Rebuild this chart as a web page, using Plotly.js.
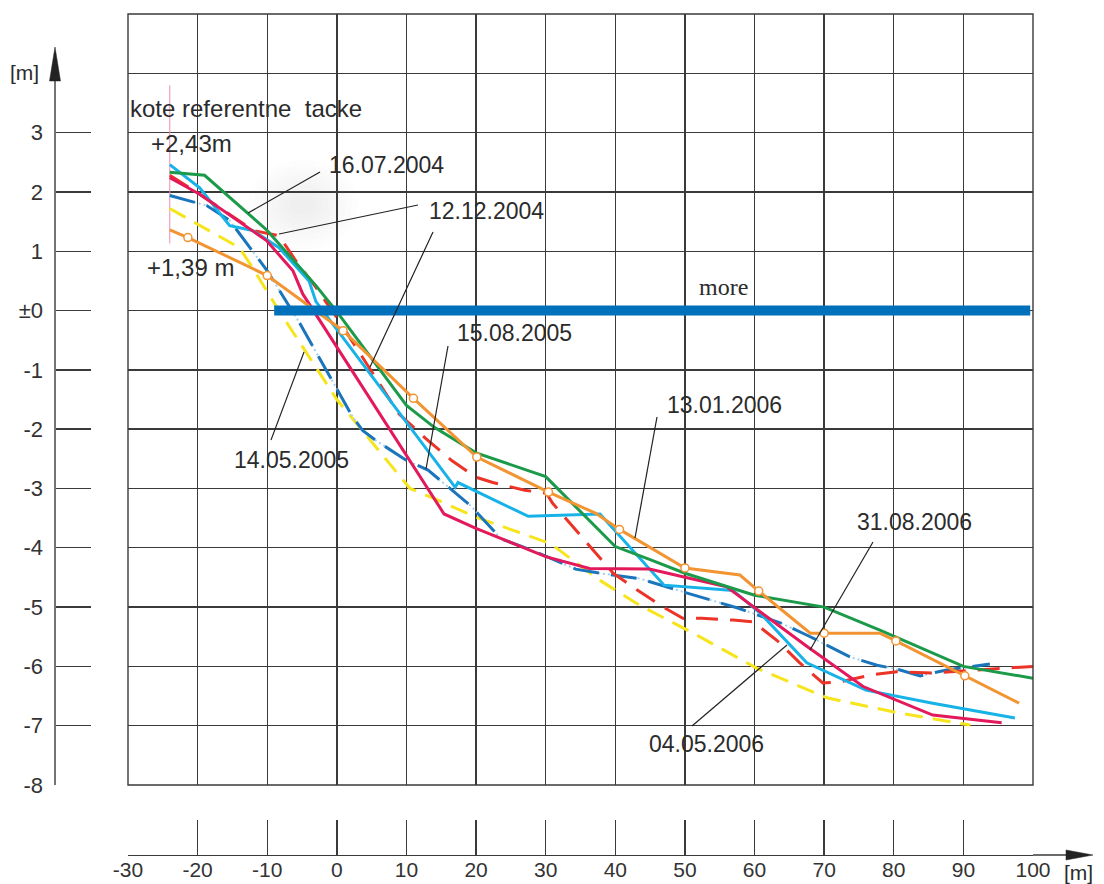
<!DOCTYPE html>
<html>
<head>
<meta charset="utf-8">
<script src="https://cdn.plot.ly/plotly-3.0.1.min.js"></script>
<style>html,body{margin:0;padding:0;background:#fff;}#chart{width:1104px;height:884px;}</style>
</head>
<body>
<div id="chart"></div>
<script>
// ---- data ----
const xTickVals = [-30, -20, -10, 0, 10, 20, 30, 40, 50, 60, 70, 80, 90, 100];
const xTickText = ['-30', '-20', '-10', '0', '10', '20', '30', '40', '50', '60', '70', '80', '90', '100'];
const yTickVals = [-8, -7, -6, -5, -4, -3, -2, -1, 0, 1, 2, 3];
const yTickText = ['-8', '-7', '-6', '-5', '-4', '-3', '-2', '-1', '\u00B10', '1', '2', '3'];

const green_16072004_X = [-24, -19, -10, -3, 0, 10, 14, 20, 30, 40, 45, 50, 60, 70, 78, 90, 100];
const green_16072004_Y = [2.33, 2.28, 1.35, 0.42, -0.02, -1.6, -1.97, -2.4, -2.8, -3.98, -4.2, -4.43, -4.8, -5.0, -5.39, -6.0, -6.2];

const red_12122004_X = [-24, -19.7, -12, -8.3, -5.9, -3, 0.3, 5.4, 8.9, 12.7, 16.5, 20, 22.4, 27, 30.1, 31, 35.9, 39.7, 43.1, 46.9, 49.7, 52.4, 56.9, 59.8, 63.2, 66.5, 69.8, 72.3, 77, 80.4, 85.6, 92.4, 100];
const red_12122004_Y = [2.28, 1.96, 1.35, 1.26, 0.84, 0.39, -0.17, -1.09, -1.74, -2.15, -2.53, -2.81, -2.9, -3.03, -3.08, -3.25, -3.92, -4.43, -4.71, -5.0, -5.19, -5.19, -5.22, -5.25, -5.56, -5.94, -6.28, -6.26, -6.14, -6.09, -6.11, -6.06, -6.0];

const yellow_14052005_X = [-24, -14, -12.1, -8.6, 0, 6, 10.5, 13.6, 19.9, 30.7, 34.6, 37.8, 43.5, 51.2, 60.3, 70.4, 80.9, 91];
const yellow_14052005_Y = [1.72, 1.06, 0.72, 0.05, -1.5, -2.36, -3.0, -3.15, -3.48, -3.93, -4.27, -4.55, -4.97, -5.44, -6.03, -6.53, -6.79, -6.99];

const blue_15082005_X = [-24, -18.7, -15.4, -10, -5.3, 2.3, 3.7, 5.6, 9.9, 13.1, 19.3, 23.6, 28, 34.3, 37.8, 43.5, 50.2, 57.7, 64, 68, 73.7, 77.6, 80.9, 83.8, 87.6, 93.8];
const blue_15082005_Y = [1.94, 1.77, 1.52, 0.67, -0.22, -1.8, -2.02, -2.19, -2.52, -2.69, -3.3, -3.85, -4.04, -4.36, -4.43, -4.52, -4.76, -5.02, -5.28, -5.5, -5.84, -5.98, -6.06, -6.16, -6.06, -5.96];

const orange_13012006_X = [-24, -21.4, -10, 0.9, 11, 20.1, 30.4, 37.2, 40.6, 50, 57.9, 60.6, 68, 70, 78, 80.3, 90.2, 98];
const orange_13012006_Y = [1.36, 1.23, 0.59, -0.34, -1.48, -2.47, -3.06, -3.42, -3.69, -4.34, -4.46, -4.73, -5.44, -5.44, -5.44, -5.57, -6.16, -6.62];
const orangeMarkX = [-21.4, -10, 0.9, 11, 20.1, 30.4, 40.6, 50, 60.6, 70, 80.3, 90.2];
const orangeMarkY = [1.23, 0.59, -0.34, -1.48, -2.47, -3.06, -3.69, -4.34, -4.73, -5.44, -5.57, -6.16];

const cyan_04052006_X = [-24, -19.7, -15.4, -12.1, -8.3, -4, -3, 17, 17.4, 27.5, 37.8, 47, 56.9, 60.8, 67.5, 76, 85.6, 97.4];
const cyan_04052006_Y = [2.46, 2.07, 1.43, 1.35, 1.06, 0.5, 0.15, -2.98, -2.9, -3.47, -3.43, -4.63, -4.72, -5.1, -5.94, -6.4, -6.62, -6.87];

const crimson_31082006_X = [-24, -19.7, -10.1, -6.3, -4.9, 15.4, 19.9, 30, 36.3, 44.9, 49.7, 56, 67.5, 75.6, 85.6, 95.5];
const crimson_31082006_Y = [2.24, 1.96, 1.18, 0.67, 0.28, -3.43, -3.67, -4.15, -4.35, -4.36, -4.49, -4.66, -5.66, -6.34, -6.82, -6.95];

const moreX = [-9, 99.6];
const moreY = [0, 0];
const refX = [-24, -24];
const refY = [1.13, 3.8];

// ---- layout helpers (pixel -> paper) ----
const ML = 0, MR = 71, MT = 14, MB = 29, W = 1104, H = 884;
const PW = W - ML - MR, PH = H - MT - MB;
const px = v => (v - ML) / PW;
const py = v => (H - MB - v) / PH;

const GRID = '#3a3a3a';
const TXT = '#2b2b2b';

function line(x, y, color, width, dash) {
  return {x: x, y: y, type: 'scatter', mode: 'lines', hoverinfo: 'skip',
          line: {color: color, width: width, dash: dash || 'solid'}};
}

const traces = [
  line(refX, refY, '#f08db2', 1),
  line(yellow_14052005_X, yellow_14052005_Y, '#f6e51c', 3, '18px,10px'),
  line(blue_15082005_X, blue_15082005_Y, '#9fd0f0', 2, '2px,3px'),
  line(blue_15082005_X, blue_15082005_Y, '#1b75bc', 3, '26px,12px'),
  line(red_12122004_X, red_12122004_Y, '#ec3327', 3, '22px,12px'),
  line(cyan_04052006_X, cyan_04052006_Y, '#17b2e8', 3),
  line(crimson_31082006_X, crimson_31082006_Y, '#e3195c', 3),
  line(green_16072004_X, green_16072004_Y, '#1b9a4a', 3),
  line(orange_13012006_X, orange_13012006_Y, '#f39433', 3),
  {x: orangeMarkX, y: orangeMarkY, type: 'scatter', mode: 'markers', hoverinfo: 'skip',
   marker: {symbol: 'circle', size: 8, color: '#ffffff', line: {color: '#f39433', width: 1.5}}},
  line(moreX, moreY, '#0070ba', 10)
];

function txt(text, xl, yc, size, family, anchor) {
  return {text: text, xref: 'paper', yref: 'paper', x: px(xl), y: py(yc),
          xanchor: anchor || 'left', yanchor: 'middle', showarrow: false,
          font: {family: family || 'Liberation Sans, Arial, sans-serif', size: size || 22, color: TXT}};
}

const annotations = [
  txt('[m]', 8, 72, 21),
  txt('[m]', 1062, 872, 21),
  txt('kote referentne\u00A0 tacke', 128, 108, 24),
  txt('+2,43m', 149, 143, 24),
  txt('+1,39 m', 145, 267, 24),
  txt('16.07.2004', 327, 165, 23),
  txt('12.12.2004', 427, 211, 23),
  txt('15.08.2005', 455, 333, 23),
  txt('14.05.2005', 232, 460, 23),
  txt('13.01.2006', 665, 405, 23),
  txt('31.08.2006', 855, 522, 23),
  txt('04.05.2006', 647, 744, 23),
  txt('more', 723, 287, 24, 'Liberation Serif, Times New Roman, serif', 'center')
];

function seg(x0, y0, x1, y1, color, width) {
  return {type: 'line', xref: 'paper', yref: 'paper', x0: px(x0), y0: py(y0), x1: px(x1), y1: py(y1),
          line: {color: color || '#222', width: width || 1.2}, layer: 'above'};
}

// soft shadow blob (several faint ellipses)
const blob = [];
for (let i = 0; i < 8; i++) {
  const rx = 55 - i * 6, ry = 45 - i * 5, cx = 303, cy = 205;
  blob.push({type: 'circle', xref: 'paper', yref: 'paper',
             x0: px(cx - rx), x1: px(cx + rx), y0: py(cy + ry), y1: py(cy - ry),
             fillcolor: 'rgba(170,170,170,0.022)', line: {width: 0}, layer: 'below'});
}

const shapes = blob.concat([
  // plot frame
  {type: 'rect', xref: 'paper', yref: 'paper', x0: px(128), x1: px(1033), y0: py(785), y1: py(14),
   line: {color: GRID, width: 1.4}, layer: 'above'},
  // y axis line + arrow
  seg(55, 785, 55, 78, GRID, 1.4),
  {type: 'path', xref: 'paper', yref: 'paper',
   path: 'M' + px(49.5) + ',' + py(81) + ' L' + px(55) + ',' + py(47) + ' L' + px(60.5) + ',' + py(81) + ' Z',
   fillcolor: '#222', line: {color: '#222', width: 0.5}},
  // x axis extension + arrow
  seg(1033, 855, 1070, 855, GRID, 1.4),
  {type: 'path', xref: 'paper', yref: 'paper',
   path: 'M' + px(1066) + ',' + py(850) + ' L' + px(1093) + ',' + py(855) + ' L' + px(1066) + ',' + py(860) + ' Z',
   fillcolor: '#222', line: {color: '#222', width: 0.5}},
  // leader lines
  seg(320, 172, 248, 213),
  seg(418, 205, 279, 234),
  seg(433, 232, 370, 367),
  seg(448, 346, 426, 469),
  seg(271, 440, 304, 352),
  seg(657, 417, 635, 538),
  seg(873, 542, 810, 650),
  seg(692, 726, 787, 645)
]);

const layout = {
  width: W, height: H,
  margin: {l: ML, r: MR, t: MT, b: MB, pad: 0},
  paper_bgcolor: '#ffffff', plot_bgcolor: '#ffffff',
  showlegend: false,
  xaxis: {
    domain: [px(128), 1], range: [-30, 100], anchor: 'free', position: 0,
    tickmode: 'array', tickvals: xTickVals, ticktext: xTickText,
    ticks: 'inside', ticklen: 35, tickwidth: 1.4, tickcolor: GRID,
    showline: true, linecolor: GRID, linewidth: 1.4,
    showgrid: true, gridcolor: GRID, gridwidth: 1.4, zeroline: false,
    tickfont: {family: 'Liberation Sans, Arial, sans-serif', size: 21, color: '#333'},
    ticklabelstandoff: -5, fixedrange: true
  },
  yaxis: {
    domain: [py(785), 1], range: [-8, 5], anchor: 'free', position: px(55),
    tickmode: 'array', tickvals: yTickVals, ticktext: yTickText,
    ticks: 'inside', ticklen: 35, tickwidth: 1.4, tickcolor: GRID,
    showline: false, showgrid: true, gridcolor: GRID, gridwidth: 1.4, zeroline: false,
    minor: {tickmode: 'array', tickvals: [4], showgrid: true, gridcolor: GRID, gridwidth: 1.4, ticks: ''},
    tickfont: {family: 'Liberation Sans, Arial, sans-serif', size: 22, color: '#333'},
    ticklabelstandoff: 12, fixedrange: true
  },
  annotations: annotations,
  shapes: shapes
};

Plotly.newPlot('chart', traces, layout, {staticPlot: true, displayModeBar: false});
</script>
</body>
</html>
